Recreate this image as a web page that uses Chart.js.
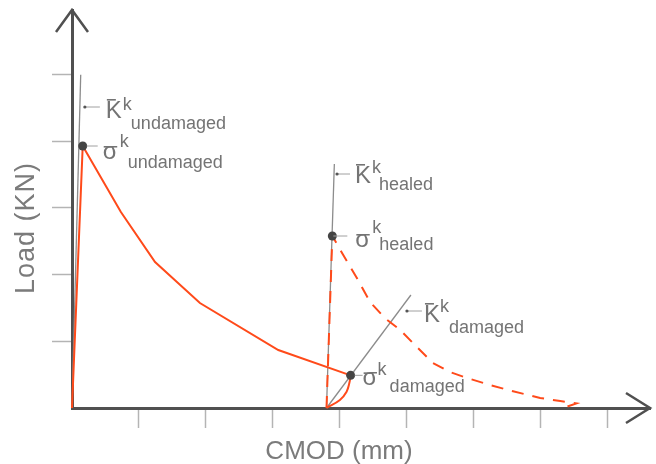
<!DOCTYPE html>
<html>
<head>
<meta charset="utf-8">
<script src="https://cdn.jsdelivr.net/npm/chart.js@4.4.1/dist/chart.umd.min.js"></script>
<style>
  html, body { margin: 0; padding: 0; background: #fff; }
</style>
</head>
<body>
<canvas id="chart" width="656" height="464"></canvas>
<script>
// values, in tick units (CMOD along x, load along y)
const undamagedCMOD = [0, 0.16, 0.73, 1.24, 1.91, 3.08, 4.16];
const undamagedLoad = [0, 3.93, 2.94, 2.19, 1.575, 0.87, 0.49];

const damagedCMOD = [3.80, 4.00, 4.10, 4.14, 4.16];
const damagedLoad = [0, 0.12, 0.245, 0.37, 0.49];

const healedCMOD = [3.80, 3.887, 4.05, 4.27, 4.45, 4.67, 4.90, 5.12, 5.39, 5.64, 5.90, 6.24, 6.57, 6.99, 7.29, 7.53, 7.36];
const healedLoad = [0, 2.58, 2.295, 1.92, 1.59, 1.35, 1.17, 0.945, 0.675, 0.54, 0.45, 0.345, 0.255, 0.15, 0.105, 0.07, 0.01];

// secant stiffness lines (start, end)
const stiffUndamagedCMOD = [0, 0.13];
const stiffUndamagedLoad = [0, 5.0];
const stiffHealedCMOD = [3.80, 3.917];
const stiffHealedLoad = [0, 3.66];
const stiffDamagedCMOD = [3.80, 5.06];
const stiffDamagedLoad = [0, 1.695];

// peak points: undamaged, healed, damaged
const peakCMOD = [0.16, 3.887, 4.16];
const peakLoad = [3.93, 2.58, 0.49];

const xTicks = [1, 2, 3, 4, 5, 6, 7, 8];
const yTicks = [1, 2, 3, 4, 5];
const xMax = 8.63;
const yMax = 5.97;

const RED = "#ff4a1a";
const GREY_LINE = "#8c8c8c";
const AXIS = "#505050";
const TEXT = "#747474";
const FONT = "'Liberation Sans', Arial, sans-serif";

const pts = (xs, ys) => xs.map((x, i) => ({ x, y: ys[i] }));

// interpolate along a 2-point line at a given load
function onLine(xs, ys, load) {
  return xs[0] + (xs[1] - xs[0]) * (load - ys[0]) / (ys[1] - ys[0]);
}

function lineDs(data, color, width, dash, extra) {
  return Object.assign({
    data,
    showLine: true,
    borderColor: color,
    borderWidth: width,
    borderDash: dash || [],
    pointRadius: 0,
    tension: 0,
    clip: false
  }, extra || {});
}

// K / sigma labels with overbar, superscript k and a subscript word
function drawSymbol(ctx, ax, ay, s) {
  ctx.save();
  ctx.strokeStyle = "#a0a0a0";
  ctx.lineWidth = 1;
  ctx.beginPath();
  ctx.moveTo(ax + s.lead[0], ay);
  ctx.lineTo(ax + s.lead[1], ay);
  ctx.stroke();
  if (s.arrow) {
    ctx.fillStyle = "#555";
    ctx.beginPath();
    ctx.arc(ax + s.lead[0], ay, 1.6, 0, Math.PI * 2);
    ctx.fill();
  }
  const mx = ax + s.main[0], my = ay + s.main[1];
  ctx.fillStyle = TEXT;
  ctx.textAlign = "left";
  ctx.textBaseline = "alphabetic";
  ctx.font = "24px " + FONT;
  ctx.fillText(s.sym, mx, my);
  ctx.fillRect(mx + 1, my + s.bar, 9, 1.6);
  ctx.font = "18px " + FONT;
  ctx.fillText("k", ax + s.sup[0], ay + s.sup[1]);
  ctx.fillText(s.sub, ax + s.sub2[0], ay + s.sub2[1]);
  ctx.restore();
}

const decor = {
  id: "decor",
  afterDraw(chart) {
    const { ctx, chartArea: a, scales: { x, y } } = chart;
    ctx.save();

    // axis arrow heads
    ctx.strokeStyle = AXIS;
    ctx.lineWidth = 2.5;
    ctx.lineJoin = "miter";
    ctx.beginPath();
    ctx.moveTo(a.left - 16, a.top + 22);
    ctx.lineTo(a.left, a.top);
    ctx.lineTo(a.left + 16, a.top + 22);
    ctx.stroke();
    ctx.beginPath();
    ctx.moveTo(a.right - 24, a.bottom - 15);
    ctx.lineTo(a.right, a.bottom);
    ctx.lineTo(a.right - 24, a.bottom + 15);
    ctx.stroke();

    // axis titles
    ctx.fillStyle = "#7b7b7b";
    ctx.font = "26px " + FONT;
    ctx.textAlign = "center";
    ctx.textBaseline = "alphabetic";
    ctx.fillText("CMOD (mm)", 339, 459);
    ctx.save();
    ctx.translate(34, 228);
    ctx.rotate(-Math.PI / 2);
    ctx.font = "27px " + FONT;
    if ("letterSpacing" in ctx) ctx.letterSpacing = "1px";
    ctx.fillText("Load (KN)", 0, 0);
    ctx.restore();

    // annotations
    const kU = 4.515, kH = 3.51, kD = 1.455;
    const labels = [
      { at: [onLine(stiffUndamagedCMOD, stiffUndamagedLoad, kU), kU], sym: "K", sub: "undamaged", arrow: true,
        lead: [5, 20], main: [26, 11], bar: -19, sup: [43, 3], sub2: [51, 22] },
      { at: [peakCMOD[0], peakLoad[0]], sym: "σ", sub: "undamaged",
        lead: [4, 15], main: [20, 13], bar: -13, sup: [37, 1], sub2: [45, 22] },
      { at: [onLine(stiffHealedCMOD, stiffHealedLoad, kH), kH], sym: "K", sub: "healed", arrow: true,
        lead: [3, 16], main: [21, 9], bar: -19, sup: [38, -1], sub2: [45, 16] },
      { at: [peakCMOD[1], peakLoad[1]], sym: "σ", sub: "healed",
        lead: [1, 15], main: [23, 11], bar: -13, sup: [40, -3], sub2: [47, 14] },
      { at: [onLine(stiffDamagedCMOD, stiffDamagedLoad, kD), kD], sym: "K", sub: "damaged", arrow: true,
        lead: [8, 23], main: [25, 11], bar: -19, sup: [41, 1], sub2: [50, 22] },
      { at: [peakCMOD[2], peakLoad[2]], sym: "σ", sub: "damaged",
        lead: [4, 12], main: [12, 10], bar: -13, sup: [27, 0], sub2: [39, 17] }
    ];
    labels.forEach(l => {
      drawSymbol(ctx, x.getPixelForValue(l.at[0]), y.getPixelForValue(l.at[1]), l);
    });
    ctx.restore();
  }
};

const axisOpts = (max, ticks) => ({
  type: "linear",
  min: 0,
  max,
  afterBuildTicks: s => { s.ticks = ticks.map(v => ({ value: v })); },
  ticks: { display: false },
  grid: {
    display: true,
    drawOnChartArea: false,
    drawTicks: true,
    tickLength: 20,
    tickColor: "#b4b4b4",
    tickWidth: 1.5
  },
  border: { display: true, color: AXIS, width: 3 }
});

new Chart(document.getElementById("chart"), {
  type: "scatter",
  data: {
    datasets: [
      {
        data: pts(peakCMOD, peakLoad),
        pointRadius: 4.5,
        pointBackgroundColor: "#444",
        pointBorderWidth: 0,
        showLine: false,
        clip: false
      },
      lineDs(pts(undamagedCMOD, undamagedLoad), RED, 2),
      lineDs(pts(damagedCMOD, damagedLoad), RED, 2, null, { tension: 0.4 }),
      lineDs(pts(healedCMOD, healedLoad), RED, 2, [12, 9]),
      lineDs(pts(stiffUndamagedCMOD, stiffUndamagedLoad), GREY_LINE, 1.3),
      lineDs(pts(stiffHealedCMOD, stiffHealedLoad), GREY_LINE, 1.3),
      lineDs(pts(stiffDamagedCMOD, stiffDamagedLoad), GREY_LINE, 1.3)
    ]
  },
  options: {
    responsive: false,
    animation: false,
    events: [],
    layout: { padding: { left: 52, right: 6, top: 10, bottom: 36 } },
    plugins: {
      legend: { display: false },
      tooltip: { enabled: false }
    },
    scales: {
      x: axisOpts(xMax, xTicks),
      y: axisOpts(yMax, yTicks)
    }
  },
  plugins: [decor]
});
</script>
</body>
</html>
